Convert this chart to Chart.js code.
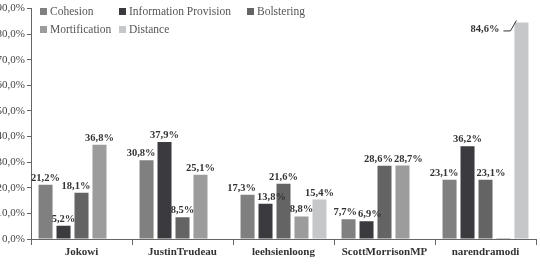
<!DOCTYPE html>
<html>
<head>
<meta charset="utf-8">
<script src="https://cdn.jsdelivr.net/npm/chart.js"></script>
<style>
  html, body { margin: 0; padding: 0; background: #fff; }
  #wrap { position: relative; width: 540px; height: 264px; }
  #legend {
    position: absolute; left: 40px; top: 4px;
    display: grid; grid-template-columns: 79px 128px 120px; row-gap: 4px;
    font: 11.5px "Liberation Serif", serif; color: #555;
  }
  #legend span.item { display: flex; align-items: center; height: 14px; white-space: nowrap; }
  #legend span.box { display: inline-block; width: 7px; height: 7px; margin-right: 3px; }
</style>
</head>
<body>
<div id="wrap">
  <canvas id="myChart" width="540" height="264"></canvas>
  <div id="legend"></div>
</div>
<script>
// data
const categories = ['Jokowi', 'JustinTrudeau', 'leehsienloong', 'ScottMorrisonMP', 'narendramodi'];
const cohesion = [21.2, 30.8, 17.3, 7.7, 23.1];
const informationProvision = [5.2, 37.9, 13.8, 6.9, 36.2];
const bolstering = [18.1, 8.5, 21.6, 28.6, 23.1];
const mortification = [36.8, 25.1, 8.8, 28.7, 0.4];
const distance = [null, null, 15.4, null, 84.6];
const seriesNames = ['Cohesion', 'Information Provision', 'Bolstering', 'Mortification', 'Distance'];
const seriesColors = ['#808080', '#3b3b3f', '#646464', '#9c9c9c', '#c6c7c9'];
const yTicks = [0, 10, 20, 30, 40, 50, 60, 70, 80, 90];

function pct(v)
{
    return v.toFixed(1).replace('.', ',') + '%';
}

// value labels above the bars, nudged apart when they collide
const barLabels = {
    id: 'barLabels',
    afterDatasetsDraw(chart)
    {
        const ctx = chart.ctx;
        ctx.save();
        ctx.font = 'bold 10.5px "Liberation Serif"';
        ctx.fillStyle = '#333';
        ctx.strokeStyle = '#333';
        ctx.lineWidth = 1;
        ctx.textAlign = 'center';

        chart.data.labels.forEach((cat, j) => {
            let row = [];
            const bars = chart.data.datasets.map((ds, i) => ds.data[j] == null ? null : chart.getDatasetMeta(i).data[j]);
            chart.data.datasets.forEach((ds, i) => {
                const v = ds.data[j];
                if (v == null || v < 1) return;
                const bar = bars[i];
                const text = pct(v);
                if (bar.y - chart.chartArea.top < 30)
                {
                    // no room on top: put it on the left with a leader line
                    const left = bar.x - bar.width / 2;
                    const ly = bar.y + 10;
                    ctx.textAlign = 'right';
                    ctx.fillText(text, left - 15, ly);
                    ctx.beginPath();
                    ctx.moveTo(left - 11, ly - 1.5);
                    ctx.lineTo(left - 4, ly - 1.5);
                    ctx.lineTo(left + 2, bar.y - 2);
                    ctx.stroke();
                    ctx.textAlign = 'center';
                    return;
                }
                let l = { text: text, x: bar.x, y: bar.y - 4, w: ctx.measureText(text).width };
                // keep clear of a taller neighbour bar
                const prev = bars[i - 1], next = bars[i + 1];
                let pushL = 0, pushR = 0;
                if (next && next.y < l.y + 2)
                    pushL = (l.x + l.w / 2 + 2) - (next.x - next.width / 2);
                if (prev && prev.y < l.y + 2)
                    pushR = (prev.x + prev.width / 2 + 2) - (l.x - l.w / 2);
                if (pushL > 0 && pushR <= 0) l.x -= pushL;
                else if (pushR > 0 && pushL <= 0) l.x += pushR;
                row.push(l);
            });

            for (let k = 1; k < row.length; k++)
            {
                const a = row[k - 1], b = row[k];
                if (Math.abs(a.y - b.y) > 9) continue;
                const overlap = (a.x + a.w / 2 + 1) - (b.x - b.w / 2);
                if (overlap > 0)
                {
                    a.x -= overlap / 2;
                    b.x += overlap / 2;
                }
            }
            row.forEach(l => ctx.fillText(l.text, l.x, l.y));
        });
        ctx.restore();
    }
};

const series = [cohesion, informationProvision, bolstering, mortification, distance];

let myChart = document.getElementById('myChart').getContext('2d');
let chart_1 = new Chart(myChart,
{
    type: 'bar',
    data:
    {
        labels: categories,
        datasets: series.map((d, i) => ({
            label: seriesNames[i],
            data: d,
            backgroundColor: seriesColors[i],
            borderWidth: 0,
            categoryPercentage: 0.89,
            barPercentage: 0.78
        }))
    },
    options:
    {
        responsive: false,
        animation: false,
        layout: { padding: { top: 0, right: 4, left: 0, bottom: 0 } },
        plugins:
        {
            legend: { display: false },
            tooltip: { enabled: false }
        },
        scales:
        {
            x:
            {
                grid: { offset: true, drawOnChartArea: false, tickLength: 6, color: '#666' },
                border: { color: '#666' },
                ticks: { color: '#333', padding: 1, font: { family: 'Liberation Serif', size: 11, weight: 'bold' } },
                afterFit: (s) => { s.height = 25; }
            },
            y:
            {
                min: 0,
                max: 90,
                afterBuildTicks: (s) => { s.ticks = yTicks.map(v => ({ value: v })); },
                grid: { drawOnChartArea: false, tickLength: 4, color: '#666' },
                border: { color: '#666' },
                ticks: { color: '#444', padding: 2, font: { family: 'Liberation Serif', size: 11 }, callback: (v) => pct(v) },
                afterFit: (s) => { s.width = 31; }
            }
        }
    },
    plugins: [barLabels]
});

// legend, three columns like the original
const legend = document.getElementById('legend');
seriesNames.forEach((name, i) => {
    const item = document.createElement('span');
    item.className = 'item';
    const box = document.createElement('span');
    box.className = 'box';
    box.style.background = seriesColors[i];
    item.appendChild(box);
    item.appendChild(document.createTextNode(name));
    legend.appendChild(item);
});
</script>
</body>
</html>
